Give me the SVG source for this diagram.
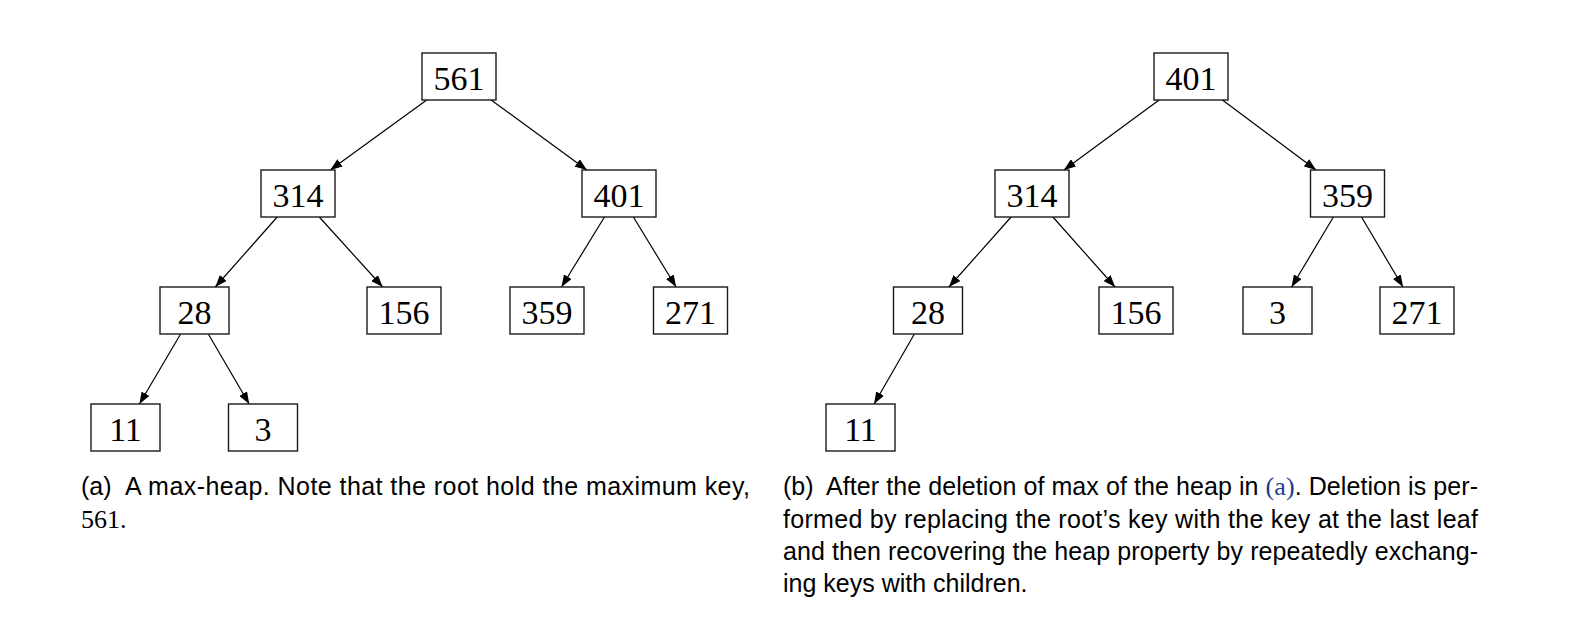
<svg xmlns="http://www.w3.org/2000/svg" width="1582" height="632" viewBox="0 0 1582 632">
<style>
.box{fill:#fff;stroke:#1a1a1a;stroke-width:1.4}
.lbl{font-family:"Liberation Serif","DejaVu Serif",serif;font-size:34px;fill:#000;text-anchor:middle}
.edge{stroke:#000;stroke-width:1.2;fill:none;marker-end:url(#arr)}
.cap{font-family:"Liberation Sans",Arial,sans-serif;font-size:25px;fill:#000}
.ser{font-family:"Liberation Serif","DejaVu Serif",serif;font-size:26px}
.ref{fill:#1b3d8f}
</style>
<defs>
<marker id="arr" markerUnits="userSpaceOnUse" markerWidth="12" markerHeight="9" refX="12" refY="4.5" orient="auto">
<path d="M0,0 L12,4.5 L0,9 z" fill="#000"/>
</marker>
</defs>
<rect width="1582" height="632" fill="#fff"/>
<g id="connectors">
<line class="edge" x1="426.7" y1="100" x2="330.3" y2="170"/>
<line class="edge" x1="491.1" y1="100" x2="586.9" y2="170"/>
<line class="edge" x1="277.2" y1="217" x2="215.3" y2="287"/>
<line class="edge" x1="319.3" y1="217" x2="382.7" y2="287"/>
<line class="edge" x1="604.5" y1="217" x2="561.5" y2="287"/>
<line class="edge" x1="633.4" y1="217" x2="676.1" y2="287"/>
<line class="edge" x1="180.6" y1="334" x2="139.4" y2="404"/>
<line class="edge" x1="208.3" y1="334" x2="249.2" y2="404"/>
<line class="edge" x1="1159.1" y1="100" x2="1063.9" y2="170"/>
<line class="edge" x1="1222.4" y1="100" x2="1316.1" y2="170"/>
<line class="edge" x1="1011.1" y1="217" x2="948.9" y2="287"/>
<line class="edge" x1="1052.9" y1="217" x2="1115.1" y2="287"/>
<line class="edge" x1="1333.4" y1="217" x2="1291.6" y2="287"/>
<line class="edge" x1="1361.5" y1="217" x2="1403" y2="287"/>
<line class="edge" x1="914.4" y1="334" x2="874.1" y2="404"/>
</g>
<g id="a561"><rect class="box" x="422" y="53" width="74" height="47"/><text class="lbl" x="459" y="90">561</text></g>
<g id="a314"><rect class="box" x="261" y="170" width="74" height="47"/><text class="lbl" x="298" y="207">314</text></g>
<g id="a401"><rect class="box" x="582" y="170" width="74" height="47"/><text class="lbl" x="619" y="207">401</text></g>
<g id="a28"><rect class="box" x="160" y="287" width="69" height="47"/><text class="lbl" x="194.5" y="324">28</text></g>
<g id="a156"><rect class="box" x="367" y="287" width="74" height="47"/><text class="lbl" x="404" y="324">156</text></g>
<g id="a359"><rect class="box" x="510" y="287" width="74" height="47"/><text class="lbl" x="547" y="324">359</text></g>
<g id="a271"><rect class="box" x="653.5" y="287" width="74" height="47"/><text class="lbl" x="690.5" y="324">271</text></g>
<g id="a11"><rect class="box" x="91" y="404" width="69" height="47"/><text class="lbl" x="125.5" y="441">11</text></g>
<g id="a3"><rect class="box" x="228.5" y="404" width="69" height="47"/><text class="lbl" x="263" y="441">3</text></g>
<g id="b401"><rect class="box" x="1154" y="53" width="74" height="47"/><text class="lbl" x="1191" y="90">401</text></g>
<g id="b314"><rect class="box" x="995" y="170" width="74" height="47"/><text class="lbl" x="1032" y="207">314</text></g>
<g id="b359"><rect class="box" x="1310.5" y="170" width="74" height="47"/><text class="lbl" x="1347.5" y="207">359</text></g>
<g id="b28"><rect class="box" x="893.5" y="287" width="69" height="47"/><text class="lbl" x="928" y="324">28</text></g>
<g id="b156"><rect class="box" x="1099" y="287" width="74" height="47"/><text class="lbl" x="1136" y="324">156</text></g>
<g id="b3"><rect class="box" x="1243" y="287" width="69" height="47"/><text class="lbl" x="1277.5" y="324">3</text></g>
<g id="b271"><rect class="box" x="1380" y="287" width="74" height="47"/><text class="lbl" x="1417" y="324">271</text></g>
<g id="b11"><rect class="box" x="826" y="404" width="69" height="47"/><text class="lbl" x="860.5" y="441">11</text></g>
<g id="caption-a">
<text class="cap" x="81" y="495">(a)</text>
<text class="cap" x="125" y="495" textLength="625" lengthAdjust="spacing">A max-heap. Note that the root hold the maximum key,</text>
<text class="cap ser" x="81" y="527.5">561.</text>
</g>
<g id="caption-b">
<text class="cap" x="783" y="495">(b)</text>
<text class="cap" x="826" y="495" textLength="652" lengthAdjust="spacing">After the deletion of max of the heap in <tspan class="ser ref">(a)</tspan>. Deletion is per-</text>
<text class="cap" x="783" y="527.5" textLength="695" lengthAdjust="spacing">formed by replacing the root’s key with the key at the last leaf</text>
<text class="cap" x="783" y="560" textLength="695" lengthAdjust="spacing">and then recovering the heap property by repeatedly exchang-</text>
<text class="cap" x="783" y="592">ing keys with children.</text>
</g>
</svg>
